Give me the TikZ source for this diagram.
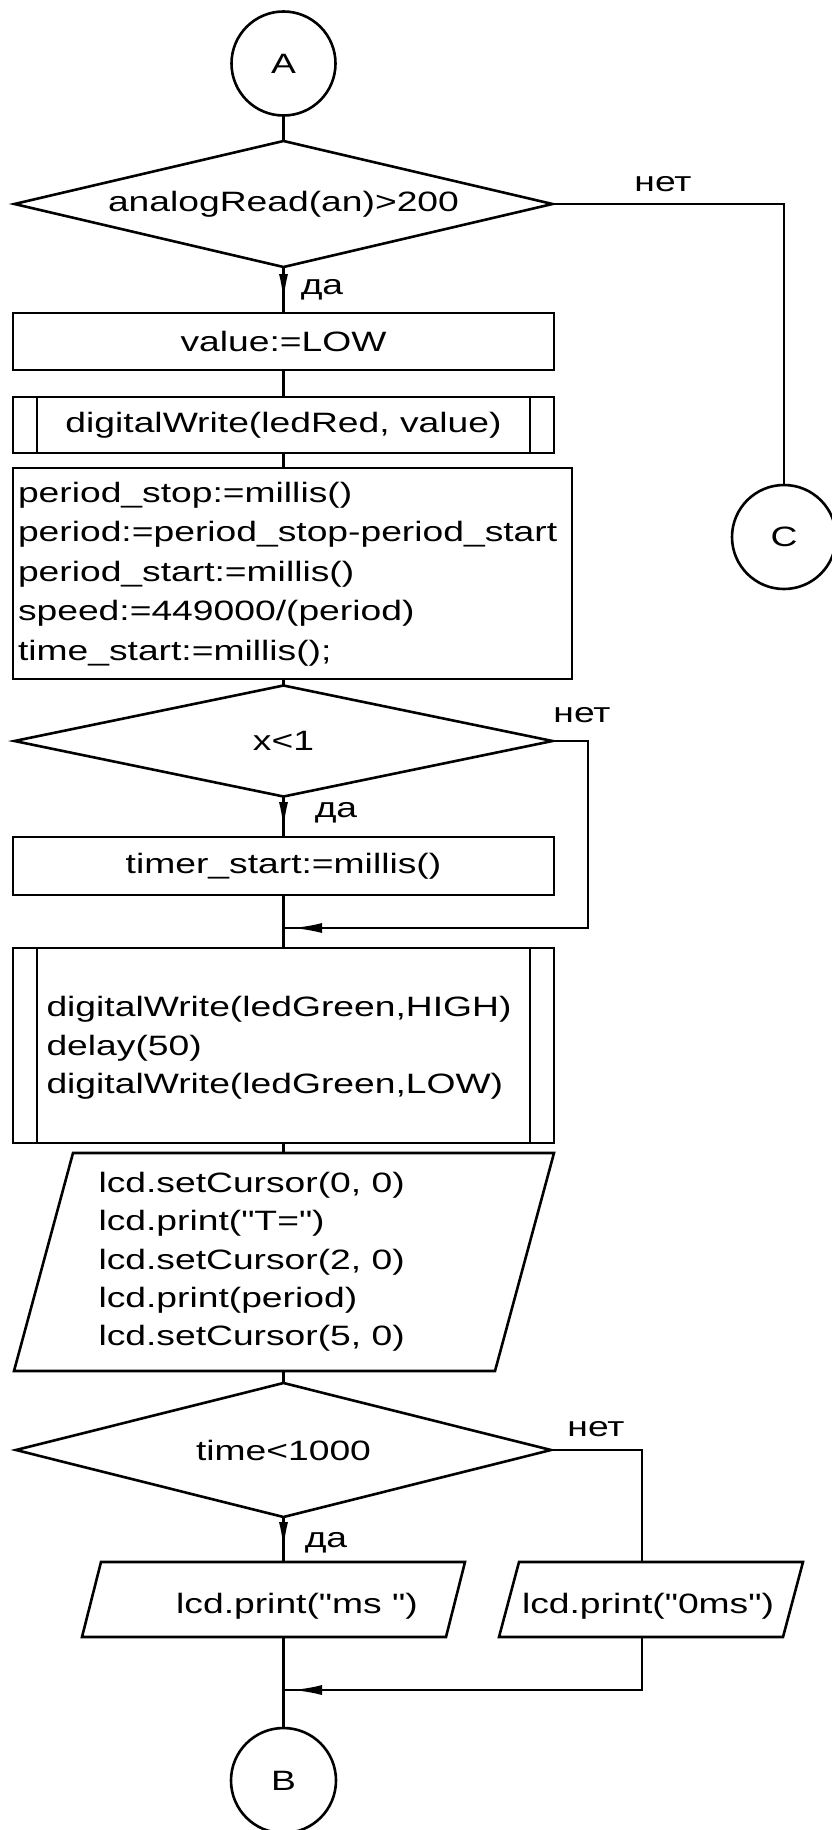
\documentclass[tikz,border=0pt]{standalone}
\usepackage{fontspec}
\setmainfont{Liberation Sans}[FakeStretch=1.33, Ligatures=TeXOff]
\usetikzlibrary{shapes.geometric,arrows.meta,decorations.markings,calc}

\begin{document}
\begin{tikzpicture}[
  x=1pt, y=-1pt,
  font=\fontsize{28}{39}\selectfont,
  ln/.style={line width=2.6pt, line join=miter},
  box/.style={draw, ln, rectangle, inner sep=0pt, outer sep=0pt},
  dec/.style={draw, ln, diamond, aspect=4.2, inner sep=0pt, outer sep=0pt},
  conn/.style={draw, ln, circle, inner sep=0pt, outer sep=0pt, minimum size=104pt},
  frame/.style={rectangle, inner sep=0pt, outer sep=0pt},
  code/.style={inner sep=0pt, outer sep=0pt, align=left, anchor=west},
  lbl/.style={inner sep=0pt, outer sep=0pt, anchor=base},
  arrowat/.style={postaction={decorate}, decoration={markings,
      mark=at position #1 with {\arrow{Latex[length=28pt,width=9pt]}}}},
  arrowlat/.style={postaction={decorate}, decoration={markings,
      mark=at position #1 with {\arrow{Latex[length=30pt,width=10pt]}}}},
]
\fill[white] (0,0) rectangle (831,1830);
\useasboundingbox (0,0) rectangle (831,1830);

% ---- blocks ----
\node[conn] (A) at (283.5,63.5) {A};
\node[dec, minimum width=538pt, minimum height=126pt] (d1) at (283.5,204) {analogRead(an)>200};
\node[box, minimum width=541pt, minimum height=57pt] (v) at (283.5,341.5) {value:=LOW};
\node[box, minimum width=541pt, minimum height=56pt] (dw1) at (283.5,425) {digitalWrite(ledRed, value)};
\node[box, minimum width=559pt, minimum height=211pt] (p) at (292.5,573.5) {};
\node[code, font=\fontsize{28}{39.5}\selectfont] (pt) at (18,574)
  {period\_stop:=millis()\\period:=period\_stop-period\_start\\period\_start:=millis()\\speed:=449000/(period)\\time\_start:=millis();};
\node[conn] (C) at (784,537) {C};
\node[dec, minimum width=538pt, minimum height=111pt] (d2) at (283.5,741) {x<1};
\node[box, minimum width=541pt, minimum height=58pt] (t) at (283.5,866) {timer\_start:=millis()};
\coordinate (j1) at (283.5,928);
\coordinate (r1) at (588,928);
\node[box, minimum width=541pt, minimum height=195pt] (dw2) at (283.5,1045.5) {};
\node[code, font=\fontsize{28}{38.5}\selectfont] (dw2t) at (46.5,1048)
  {digitalWrite(ledGreen,HIGH)\\delay(50)\\digitalWrite(ledGreen,LOW)};
\node[frame, minimum width=540pt, minimum height=218pt] (io1) at (284,1262) {};
\node[code, font=\fontsize{28}{38.3}\selectfont] (io1t) at (98.5,1262)
  {lcd.setCursor(0, 0)\\lcd.print("T=")\\lcd.setCursor(2, 0)\\lcd.print(period)\\lcd.setCursor(5, 0)};
\node[dec, minimum width=535pt, minimum height=134pt] (d3) at (283.5,1450) {time<1000};
\node[frame, minimum width=383pt, minimum height=75pt] (io2) at (273.5,1599.5) {};
\node[lbl] (io2t) at (297,1613) {lcd.print("ms ")};
\node[frame, minimum width=304pt, minimum height=75pt] (io3) at (651,1599.5) {};
\node[lbl] (io3t) at (648,1613) {lcd.print("0ms")};
\coordinate (m3) at (283.5,1690);
\coordinate (n3) at (642,1690);
\node[conn, minimum size=105pt] (B) at (283.5,1780.5) {B};

% side bars of the subroutine blocks
\draw[ln] ([xshift=24pt]dw1.north west) -- ([xshift=24pt]dw1.south west);
\draw[ln] ([xshift=-24pt]dw1.north east) -- ([xshift=-24pt]dw1.south east);
\draw[ln] ([xshift=24pt]dw2.north west) -- ([xshift=24pt]dw2.south west);
\draw[ln] ([xshift=-24pt]dw2.north east) -- ([xshift=-24pt]dw2.south east);

% input/output parallelograms
\draw[ln] ([xshift=59pt]io1.north west) -- (io1.north east) -- ([xshift=-59pt]io1.south east) -- (io1.south west) -- cycle;
\draw[ln] ([xshift=19pt]io2.north west) -- (io2.north east) -- ([xshift=-19pt]io2.south east) -- (io2.south west) -- cycle;
\draw[ln] ([xshift=20pt]io3.north west) -- (io3.north east) -- ([xshift=-20pt]io3.south east) -- (io3.south west) -- cycle;

% ---- branch labels ----
\node[lbl] (no1) at (663,192) {нет};
\node[lbl] (yes1) at (322,294) {да};
\node[lbl] (no2) at (582,722) {нет};
\node[lbl] (yes2) at (336,817) {да};
\node[lbl] (no3) at (596,1436) {нет};
\node[lbl] (yes3) at (326,1547) {да};

% ---- connectors ----
\draw[ln] (A.south) -- (d1.north);
\draw[ln, arrowat=-11pt] (d1.south) -- (v.north);
\draw[ln] (v.south) -- (dw1.north);
\draw[ln] (dw1.south) -- (dw1.south |- p.north);
\draw[ln] (d2.north |- p.south) -- (d2.north);
\draw[ln] (d1.east) -| (C.north);
\draw[ln, arrowat=-7pt] (d2.south) -- (t.north);
\draw[ln, arrowlat=-8.5pt] (d2.east) -| (r1) -- (j1);
\draw[ln] (t.south) -- (dw2.north);
\draw[ln] (dw2.south) -- (dw2.south |- io1.north);
\draw[ln] (io1.south -| d3.north) -- (d3.north);
\draw[ln, arrowat=-12pt] (d3.south) -- (d3.south |- io2.north);
\draw[ln] (d3.east) -| (io3.north -| n3);
\draw[ln, arrowlat=-8.5pt] (io3.south -| n3) -- (n3) -- (m3);
\draw[ln] (B.north |- io2.south) -- (B.north);
\end{tikzpicture}
\end{document}
